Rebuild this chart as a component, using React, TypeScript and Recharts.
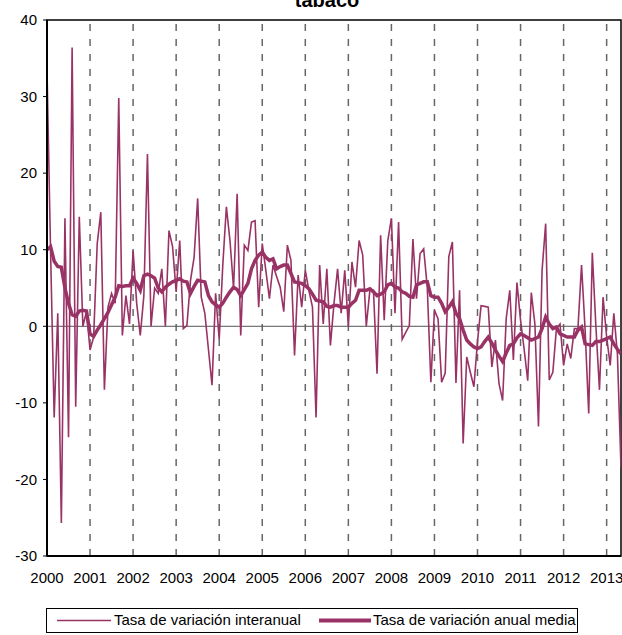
import React from 'react';
import { LineChart, Line, XAxis, YAxis, ReferenceLine, ReferenceArea, Legend } from 'recharts';

const COLOR = '#993366';

const yearLabels = ['2000','2001','2002','2003','2004','2005','2006','2007','2008','2009','2010','2011','2012','2013'];
const yTicks = [-30, -20, -10, 0, 10, 20, 30, 40];

const interanual = [
  33.5, 9.7, -11.9, 1.7, -25.7, 14.1, -14.5, 36.4, -10.5, 14.3, 0, 1.9,
  -3.1, -1.4, 10.8, 14.9, -8.3, 2.5, 4.3, 3, 29.8, -1.2, 4, 0.3,
  9.9, 3, -1.2, 4, 22.5, 0, 5, 4.3, 7.5, 0, 12.5, 10.4,
  4.5, 11.2, -0.3, 0.1, 6, 9, 16.7, 3.8, 1.7, -3, -7.7, 4.3,
  -1.7, 8, 15.6, 11.2, 5, 17.3, -1.2, 10.6, 9.9, 13.6, 13.8, 2.5,
  10.8, 7.3, 3.6, 8, 6.5, 5.1, 1.9, 10.6, 8.6, -3.8, 6.7, 2.5,
  7.3, 4.7, 2.5, -11.9, 8, 0.3, 7.5, -2.5, 3, 7.5, 1.7, 7.3,
  0, 8.4, 5.1, 11.2, 9.3, 0, 4.7, 4.7, -6.2, 11.9, 0.8, 11.2,
  14.1, 1.7, 13.6, -1.7, -0.8, 0.1, 11.4, 3.6, 9.5, 10.1, 5.1, -7.3,
  2.1, 1, -7.3, -6.1, 9.1, 11, -7.4, 4.7, -15.3, -4, -6, -7.9,
  -2, 2.7, 2.6, 2.5, -5.3, -1.8, -7.5, -9.7, 1, 4.7, -4.4, 5.7,
  0.8, -3, -7.1, 4.4, 0.3, -13.1, 7.3, 13.4, -7, -6, -0.3, 0.3,
  -5.1, -2.3, -4.2, -0.3, -0.3, 8, -0.5, -11.4, 9.6, 0, -8.3, 3.8,
  -1.4, -5.1, 1.7, -3.6, -18.4,
];

const anualMedia = [
  10, 10.4, 8.5, 7.8, 7.7, 5, 3, 1.5, 1.3, 2, 2.1, 2,
  -1, -1.3, -0.5, 0.2, 1, 1.8, 2.8, 3.8, 5.3, 5.2, 5.3, 5.3,
  6.3, 5.6, 4.7, 6.6, 6.8, 6.6, 6.3, 5.0, 4.5, 5.1, 5.5, 5.8,
  6.0, 6.2, 5.9, 5.8, 4.3, 5.2, 6, 5.9, 5.8, 4.0, 3.2, 2.8,
  2.5, 3.0, 3.8, 4.5, 5.1, 4.8, 4.0, 4.8, 5.6, 7.5, 8.6, 9.3,
  9.7, 9.0, 8.6, 8.8, 7.5, 7.8, 8.0, 8.0, 6.9, 5.8, 5.7, 5.6,
  5.3, 4.9, 4.2, 3.4, 3.3, 3.2, 2.6, 2.5, 2.7, 2.7, 2.5, 2.5,
  2.5, 3.0, 3.4, 4.7, 4.7, 4.7, 4.9, 4.5, 4.0, 4.2, 4.5, 5.4,
  5.6, 5.1, 5.0, 4.5, 4.3, 3.9, 3.8, 5.4, 5.6, 5.8, 5.8, 4.0,
  3.8, 3.8, 3.0, 1.9, 2.5, 3.2, 1.7, 1.0, -0.5, -1.8, -2.3, -2.7,
  -2.9, -2.7, -2.0, -1.4, -2.2, -3.1, -3.9, -4.6, -3.5, -2.5, -2.3, -1.5,
  -1.0, -1.2, -1.5, -1.8, -1.6, -1.4, -0.3, 1.2, 0.3, -0.3, -0.1, -1.0,
  -1.2, -1.4, -1.4, -1.4, -0.5, -0.1, -2.3, -2.4, -2.5, -2.0, -2.0, -1.8,
  -1.6, -1.4, -2.3, -3.0, -3.6,
];

const data = interanual.map((v, i) => ({ i, interanual: v, media: anualMedia[i] }));
const yearTicks = yearLabels.map((_, k) => k * 12);
const FONT = '"Liberation Sans", Arial, sans-serif';

const renderLegend = () => (
  <div style={{ position: 'relative', width: 532, height: 25, border: '1px solid #000', boxSizing: 'border-box', background: '#fff', fontFamily: FONT, fontSize: 15, color: '#000' }}>
    <svg width={532} height={23} style={{ position: 'absolute', left: 0, top: 0 }}>
      <line x1={10} x2={64} y1={11.5} y2={11.5} stroke={COLOR} strokeWidth={1.5} />
      <line x1={272} x2={324} y1={11.5} y2={11.5} stroke={COLOR} strokeWidth={4} />
    </svg>
    <span style={{ position: 'absolute', left: 67, top: 2, whiteSpace: 'nowrap' }}>Tasa de variación interanual</span>
    <span style={{ position: 'absolute', left: 326, top: 2, whiteSpace: 'nowrap' }}>Tasa de variación anual media</span>
  </div>
);

export default function App() {
  return (
    <div style={{ position: 'absolute', left: 0, top: 0, width: 622, height: 635, background: '#fff' }}>
      <LineChart width={622} height={635} data={data} margin={{ top: 20, right: 1, bottom: 49, left: 0 }}>
        <text x={327} y={7} textAnchor="middle" style={{ fontFamily: FONT, fontWeight: 'bold', fontSize: 20 }} fill="#000">tabaco</text>
        <XAxis
          dataKey="i"
          type="number"
          domain={[0, 160]}
          ticks={yearTicks}
          tickFormatter={(v: number) => yearLabels[Math.round(v / 12)]}
          tickLine={false}
          tickSize={0}
          tickMargin={16}
          height={30}
          axisLine={{ stroke: '#000', strokeWidth: 2 }}
          tick={{ fill: '#000', fontSize: 15, fontFamily: FONT }}
          interval={0}
          allowDataOverflow
        />
        <YAxis
          type="number"
          domain={[-30, 40]}
          ticks={yTicks}
          width={47}
          tickSize={4}
          tickMargin={6}
          axisLine={{ stroke: '#000', strokeWidth: 2 }}
          tickLine={{ stroke: '#000', strokeWidth: 1 }}
          tick={{ fill: '#000', fontSize: 15, fontFamily: FONT }}
          interval={0}
          allowDataOverflow
        />
        <ReferenceArea x1={0} x2={160} y1={-30} y2={40} fill="none" stroke="#000" strokeWidth={1.5} ifOverflow="extendDomain" />
        {yearTicks.slice(1).map((t) => (
          <ReferenceLine key={t} x={t} stroke="#666" strokeWidth={1.5} strokeDasharray="7 8" />
        ))}
        <ReferenceLine y={0} stroke="#555" strokeWidth={1} />
        <Line type="linear" dataKey="interanual" stroke={COLOR} strokeWidth={1.6} dot={false} isAnimationActive={false} />
        <Line type="linear" dataKey="media" stroke={COLOR} strokeWidth={3.5} dot={false} isAnimationActive={false} />
        <Legend
          layout="horizontal"
          verticalAlign="middle"
          align="center"
          content={renderLegend}
          wrapperStyle={{ left: 46, top: 608, width: 532, height: 25 }}
        />
      </LineChart>
    </div>
  );
}
